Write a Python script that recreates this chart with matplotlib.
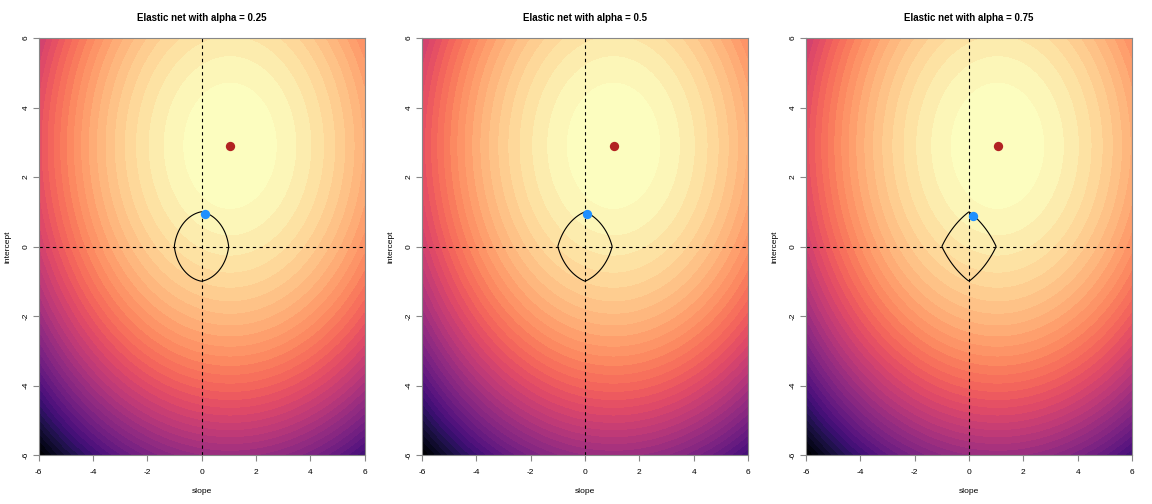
import numpy as np
import matplotlib
matplotlib.use('Agg')
import matplotlib.pyplot as plt
from matplotlib.colors import ListedColormap, BoundaryNorm

plt.rcParams['font.family'] = ['Liberation Sans', 'DejaVu Sans']

# values
alphas = [0.25, 0.5, 0.75]
ols_slope = 1.05
ols_intercept = 2.9
enet_slope = [0.13, 0.07, 0.15]
enet_intercept = [0.93, 0.93, 0.87]
ticks = [-6, -4, -2, 0, 2, 4, 6]
n_bands = 40
intercept_weight = 0.9   # contours slightly taller than wide

# loss surface (squared error around the OLS fit)
grid = np.linspace(-6, 6, 400)
S, I = np.meshgrid(grid, grid)
loss = (S - ols_slope) ** 2 + intercept_weight * (I - ols_intercept) ** 2
levels = np.linspace(0, loss.max(), n_bands + 1)
# band colours: reversed magma, a touch lighter in the middle
pos = np.linspace(0, 1, n_bands) ** 1.1
cmap = ListedColormap(plt.get_cmap('magma_r')(pos))
norm = BoundaryNorm(levels, cmap.N)

fig = plt.figure(figsize=(11.52, 5.04), dpi=100)
lefts = [38.5 / 1152, 422 / 1152, 806 / 1152]
w = 326 / 1152
b = (504 - 455) / 504
h = 417 / 504

for k, alpha in enumerate(alphas):
    ax = fig.add_axes([lefts[k], b, w, h])
    ax.contourf(S, I, loss, levels=levels, cmap=cmap, norm=norm, antialiased=False)

    ax.axvline(0, color='black', linestyle=(0, (3, 3)), linewidth=0.8)
    ax.axhline(0, color='black', linestyle=(0, (3, 3)), linewidth=0.8)

    # elastic net constraint region boundary
    pen = alpha * (np.abs(S) + np.abs(I)) + (1 - alpha) * (S ** 2 + I ** 2)
    ax.contour(S, I, pen, levels=[1], colors='black', linewidths=0.8)

    ax.scatter([ols_slope], [ols_intercept], s=45, color='#B22222', zorder=5, linewidths=0)
    ax.scatter([enet_slope[k]], [enet_intercept[k]], s=45, color='#1E90FF', zorder=5, linewidths=0)

    ax.set_xlim(-6, 6)
    ax.set_ylim(-6, 6)
    ax.set_xticks(ticks)
    ax.set_yticks(ticks)
    ax.set_xticklabels([str(t) for t in ticks])
    ax.set_yticklabels([str(t) for t in ticks], rotation=90, va='center')
    ax.tick_params(direction='out', length=4, width=0.8, color='#888888', labelsize=6)
    ax.tick_params(axis='x', pad=6)
    ax.tick_params(axis='y', pad=2.5)
    for sp in ax.spines.values():
        sp.set_color('#888888')
        sp.set_linewidth(0.8)

    ax.set_title(f"Elastic net with alpha = {alpha}", fontsize=7, fontweight='bold', pad=12)
    ax.set_xlabel('slope', fontsize=6, labelpad=9)
    ax.set_ylabel('intercept', fontsize=6, labelpad=8)

plt.savefig('out.png', dpi=100)
